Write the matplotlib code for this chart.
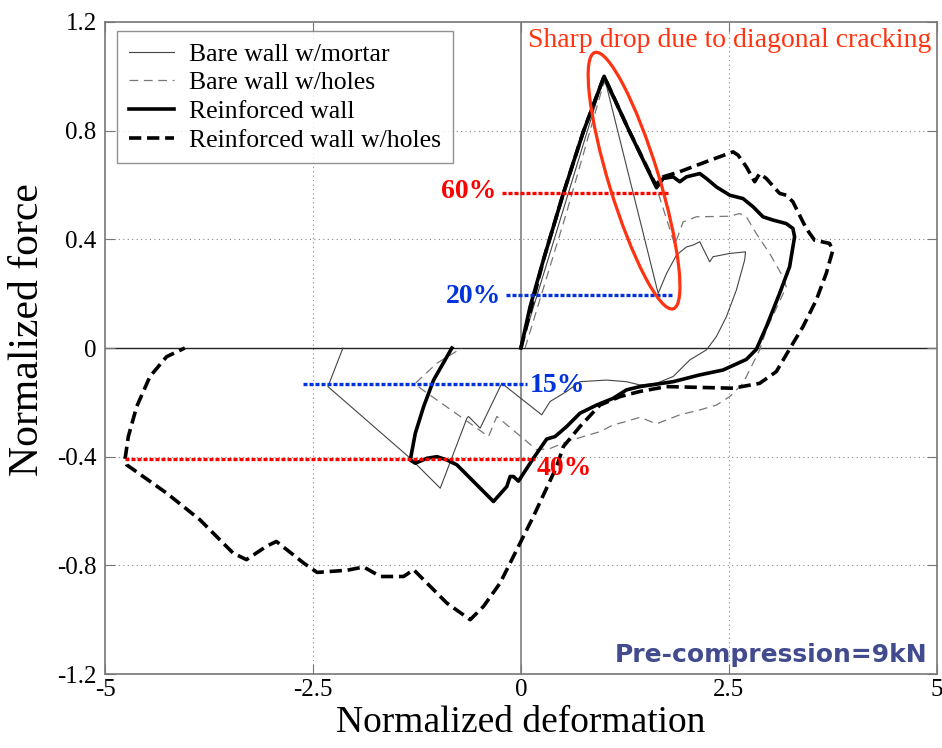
import matplotlib
matplotlib.use("Agg")
import matplotlib.pyplot as plt
import matplotlib.transforms as mtransforms
from matplotlib.patches import Ellipse

plt.rcParams['font.family'] = ['Liberation Serif', 'DejaVu Serif']

# Bare wall w/mortar (thin solid)
bm_x = [0, 0.5, 1.0, 1.65, 1.75, 1.87, 1.99, 2.07, 2.15, 2.27, 2.31, 2.51, 2.70, 2.69, 2.59, 2.47, 2.35,
        2.23, 2.03, 1.83, 1.63, 1.43, 1.27, 1.03, 0.71, 0.55, 0.35, 0.25, -0.23, -0.49, -0.63, -0.65,
        -0.97, -1.33, -2.32, -2.14]
bm_y = [0, 0.5, 1.0, 0.201, 0.274, 0.342, 0.372, 0.379, 0.391, 0.317, 0.336, 0.348, 0.354, 0.324, 0.213,
        0.115, 0.042, -0.007, -0.044, -0.105, -0.13, -0.136, -0.124, -0.118, -0.124, -0.160, -0.197,
        -0.246, -0.130, -0.295, -0.252, -0.259, -0.516, -0.406, -0.142, 0.0]

# Bare wall w/holes (thin dashed)
bh_x = [0.05, 0.55, 1.0, 1.3, 1.62, 1.85, 1.95, 2.11, 2.51, 2.63, 2.71, 2.83, 2.99, 3.15, 3.19, 2.95,
        2.87, 2.67, 2.51, 2.35, 2.15, 1.91, 1.63, 1.43, 1.27, 1.11, 0.95, 0.75, 0.55, 0.35, 0.19, -0.29,
        -0.39, -0.53, -1.21, -1.27, -1.01, -0.71]
bh_y = [0, 0.5, 0.98, 0.8, 0.6, 0.38, 0.464, 0.483, 0.485, 0.495, 0.483, 0.421, 0.348, 0.262, 0.225,
        0.066, -0.007, -0.130, -0.179, -0.21, -0.228, -0.246, -0.279, -0.255, -0.270, -0.283, -0.308,
        -0.326, -0.345, -0.37, -0.375, -0.252, -0.326, -0.295, -0.148, -0.130, -0.056, 0.0]

# Reinforced wall (thick solid)
rw_x = [0, 0.11, 0.27, 0.51, 0.75, 1.0, 1.3, 1.63, 1.71, 1.83, 1.91, 1.99, 2.15, 2.23, 2.35, 2.51, 2.67,
        2.79, 2.91, 3.03, 3.19, 3.27, 3.29, 3.23, 3.11, 2.95, 2.83, 2.71, 2.43, 2.15, 1.83, 1.43, 1.27,
        1.11, 0.91, 0.71, 0.55, 0.41, 0.31, 0.19, 0.15, -0.03, -0.09, -0.13, -0.17, -0.33, -0.77, -0.89,
        -1.01, -1.13, -1.27, -1.33, -1.27, -1.17, -1.05, -0.83]
rw_y = [0, 0.152, 0.324, 0.569, 0.796, 1.0, 0.8, 0.59, 0.624, 0.63, 0.612, 0.63, 0.642, 0.624, 0.593,
        0.5625, 0.55, 0.52, 0.483, 0.471, 0.458, 0.44, 0.409, 0.299, 0.201, 0.078, -0.005, -0.042,
        -0.081, -0.099, -0.124, -0.142, -0.154, -0.185, -0.21, -0.24, -0.289, -0.326, -0.335, -0.388,
        -0.406, -0.49, -0.473, -0.473, -0.51, -0.565, -0.43, -0.412, -0.40, -0.406, -0.424, -0.412,
        -0.314, -0.216, -0.118, 0.0]

# Reinforced wall w/holes (thick dashed)
rh_x = [0, 0.27, 0.51, 0.75, 1.0, 1.3, 1.62, 1.71, 1.91, 2.23, 2.55, 2.61, 2.71, 2.81, 2.87, 2.95, 3.11,
        3.19, 3.27, 3.43, 3.53, 3.71, 3.75, 3.67, 3.55, 3.39, 3.27, 3.07, 2.87, 2.55, 2.15, 1.75, 1.43,
        1.19, 0.95, 0.71, 0.51, 0.43, 0.15, -0.01, -0.25, -0.45, -0.61, -0.89, -1.29, -1.41, -1.69,
        -1.89, -2.09, -2.45, -2.61, -2.94, -3.06, -3.30, -3.46, -3.86, -4.26, -4.74, -4.76, -4.72,
        -4.62, -4.46, -4.26, -4.04]
rh_y = [0, 0.324, 0.569, 0.796, 1.0, 0.8, 0.6, 0.630, 0.649, 0.686, 0.722, 0.710, 0.667, 0.612, 0.642,
        0.624, 0.569, 0.5625, 0.538, 0.44, 0.397, 0.385, 0.36, 0.274, 0.176, 0.078, 0.017, -0.087,
        -0.130, -0.148, -0.145, -0.142, -0.160, -0.179, -0.21, -0.289, -0.363, -0.436, -0.62, -0.718,
        -0.865, -0.951, -1.0, -0.939, -0.816, -0.841, -0.841, -0.806, -0.818, -0.826, -0.792, -0.712,
        -0.73, -0.779, -0.755, -0.632, -0.534, -0.43, -0.41, -0.326, -0.216, -0.105, -0.032, 0.0]

# stiffness reference levels: label, y level, x start, x end
ref_labels = ['60%', '20%', '15%', '40%']
ref_y = [0.572, 0.195, -0.134, -0.41]
ref_x0 = [-0.23, -0.18, -2.62, -4.76]
ref_x1 = [1.77, 1.82, 0.07, 0.17]
ref_colors = ['#ff0000', '#0033dd', '#0033dd', '#ff0000']

xticks = [-5, -2.5, 0, 2.5, 5]
xtick_labels = ['-5', '-2.5', '0', '2.5', '5']
yticks = [-1.2, -0.8, -0.4, 0, 0.4, 0.8, 1.2]
ytick_labels = ['-1.2', '-0.8', '-0.4', '0', '0.4', '0.8', '1.2']

fig = plt.figure(figsize=(9.42, 7.48), dpi=100)
ax = fig.add_axes([0.1115, 0.0989, 0.883, 0.8717])

ax.set_xlim(-5, 5)
ax.set_ylim(-1.2, 1.2)

for v in [-2.5, 2.5]:
    ax.axvline(v, color='#888888', lw=0.8, ls=(0, (1, 3)), zorder=0)
for v in [-0.8, -0.4, 0.4, 0.8]:
    ax.axhline(v, color='#888888', lw=0.8, ls=(0, (1, 3)), zorder=0)
ax.axvline(0, color='#888888', lw=1.3, zorder=0)
ax.axhline(0, color='#222222', lw=1.0, zorder=0)

ax.plot(bm_x, bm_y, color='#444444', lw=0.8, label='Bare wall w/mortar')
ax.plot(bh_x, bh_y, color='#777777', lw=0.9, dashes=(7, 4.5), label='Bare wall w/holes')
ax.plot(rw_x, rw_y, color='black', lw=2.6, label='Reinforced wall')
ax.plot(rh_x, rh_y, color='black', lw=2.6, dashes=(3.4, 1.6), label='Reinforced wall w/holes')

for lab, yy, x0, x1, c in zip(ref_labels, ref_y, ref_x0, ref_x1, ref_colors):
    ax.plot([x0, x1], [yy, yy], color=c, lw=2.4, dashes=(1.2, 0.6), zorder=5)

txt = dict(fontsize=20, fontweight='bold', zorder=6)
ax.text(ref_x0[0] - 0.06, ref_y[0] + 0.005, ref_labels[0], color=ref_colors[0], ha='right', va='center', **txt)
ax.text(ref_x0[1] - 0.06, ref_y[1] - 0.007, ref_labels[1], color=ref_colors[1], ha='right', va='center', **txt)
ax.text(ref_x1[2] + 0.04, ref_y[2] - 0.003, ref_labels[2], color=ref_colors[2], ha='left', va='center', **txt)
ax.text(ref_x1[3] + 0.02, ref_y[3] - 0.035, ref_labels[3], color=ref_colors[3], ha='left', va='center', **txt)

# ellipse around the sharp drop, sized in inches so it stays a true ellipse
ell_tr = fig.dpi_scale_trans + mtransforms.ScaledTranslation(1.36, 0.616, ax.transData)
ax.add_patch(Ellipse((0, 0), width=2.68, height=0.5, angle=-73, fill=False,
                     edgecolor='#ff3311', lw=2.3, transform=ell_tr, zorder=7))
ax.text(0.084, 1.132, 'Sharp drop due to diagonal cracking', color='#ff3311', fontsize=20,
        ha='left', va='center')
ax.text(4.89, -1.129, 'Pre-compression=9kN', color='#414b8e', fontsize=18, fontweight='bold',
        family='DejaVu Sans', ha='right', va='center')

ax.set_xticks(xticks)
ax.set_xticklabels(xtick_labels)
ax.set_yticks(yticks)
ax.set_yticklabels(ytick_labels)
ax.tick_params(direction='in', length=7, color='#777777', top=True, right=True, labelsize=18)
ax.tick_params(axis='y', pad=6)
for s in ax.spines.values():
    s.set_color('#777777')
    s.set_linewidth(1.2)

ax.set_xlabel('Normalized deformation', fontsize=27, labelpad=3)
ax.set_ylabel('Normalized force', fontsize=30)
ax.yaxis.set_label_coords(-0.07, 0.529)

leg = ax.legend(loc='upper left', bbox_to_anchor=(0.0144, 0.986), borderaxespad=0, fontsize=18.5,
                frameon=True, fancybox=False, edgecolor='#777777', handlelength=1.75, borderpad=0.45,
                labelspacing=0.22, handletextpad=0.6)
leg.get_frame().set_linewidth(1.0)

fig.savefig('out.png', dpi=100)
